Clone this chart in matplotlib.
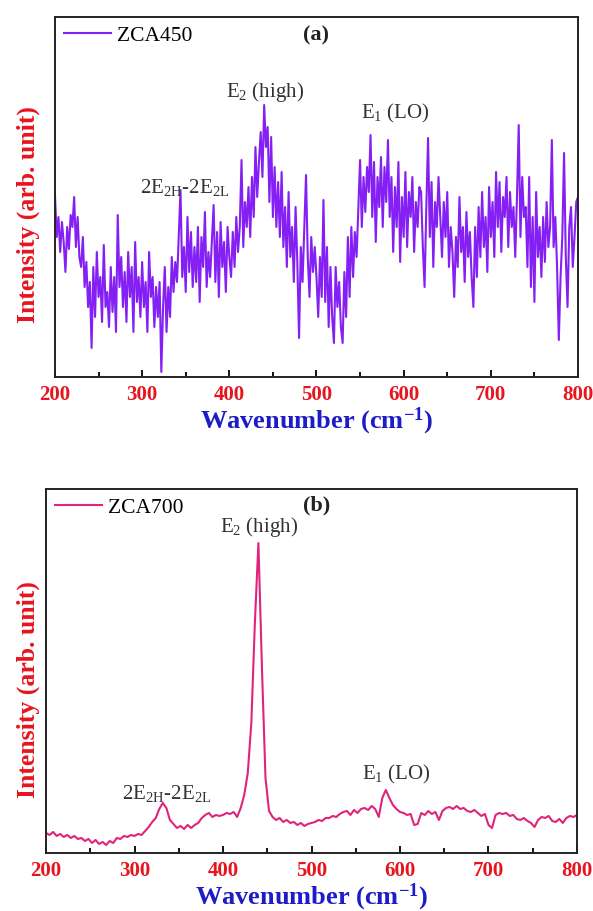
import numpy as np
import matplotlib
matplotlib.use('Agg')
import matplotlib.pyplot as plt
from matplotlib.ticker import MultipleLocator, NullLocator

plt.rcParams['font.family'] = 'Liberation Serif'
plt.rcParams['mathtext.fontset'] = 'custom'
plt.rcParams['mathtext.rm'] = 'Liberation Serif'
plt.rcParams['mathtext.it'] = 'Liberation Serif:italic'
plt.rcParams['mathtext.bf'] = 'Liberation Serif:bold'

# ZCA450 Raman spectrum, 2 cm-1 steps (arb. units)
wn_a = np.arange(200, 801, 2)
int_a = [182, 140, 160, 125, 155, 135, 105, 150, 128, 162,
         150, 180, 130, 160, 120, 110, 140, 90, 115, 70,
         95, 29, 110, 60, 125, 80, 100, 55, 132, 70,
         85, 50, 110, 65, 100, 45, 162, 90, 120, 70,
         105, 55, 125, 80, 110, 45, 135, 75, 100, 60,
         115, 70, 95, 45, 125, 80, 100, 50, 90, 60,
         95, 5, 70, 110, 45, 90, 60, 120, 85, 115,
         95, 140, 187, 100, 130, 85, 160, 105, 145, 90,
         130, 95, 150, 75, 140, 110, 165, 90, 125, 100,
         135, 172, 95, 145, 80, 155, 110, 135, 85, 150,
         120, 100, 145, 110, 160, 125, 150, 217, 130, 175,
         150, 190, 140, 200, 160, 230, 180, 215, 245, 200,
         272, 230, 250, 175, 240, 160, 210, 150, 195, 140,
         205, 130, 170, 110, 185, 120, 150, 95, 170, 115,
         39, 130, 95, 150, 202, 120, 80, 140, 105, 130,
         100, 60, 120, 80, 177, 75, 130, 50, 110, 60,
         34, 110, 70, 95, 50, 34, 105, 60, 140, 80,
         150, 100, 145, 120, 170, 217, 150, 200, 165, 210,
         185, 242, 160, 215, 135, 200, 170, 220, 150, 210,
         175, 237, 160, 200, 125, 190, 150, 215, 115, 180,
         140, 205, 130, 185, 160, 200, 125, 175, 150, 190,
         185, 130, 90, 170, 239, 140, 195, 110, 175, 150,
         200, 160, 120, 175, 140, 185, 110, 150, 125, 80,
         140, 110, 180, 125, 150, 95, 165, 120, 145, 100,
         70, 150, 100, 170, 120, 185, 130, 160, 105, 190,
         140, 175, 120, 205, 150, 195, 125, 180, 160, 200,
         130, 185, 150, 170, 120, 180, 252, 140, 200, 160,
         170, 110, 200, 90, 160, 75, 185, 120, 150, 100,
         160, 115, 175, 130, 150, 237, 130, 160, 110, 37,
         100, 140, 224, 120, 70, 150, 170, 110, 140, 175,
         180]

# ZCA700 Raman spectrum, 4 cm-1 steps (arb. units)
wn_b = np.arange(200, 801, 4)
int_b = [20, 18, 21, 17, 19, 16, 18, 15, 17, 14,
         15, 12, 14, 10, 13, 9, 11, 8, 12, 10,
         15, 14, 17, 16, 18, 17, 19, 18, 22, 26,
         31, 35, 44, 50, 45, 33, 29, 25, 27, 24,
         28, 25, 28, 30, 35, 38, 40, 36, 38, 37,
         38, 40, 39, 41, 36, 45, 58, 80, 130, 230,
         310, 185, 75, 42, 36, 33, 35, 31, 33, 30,
         31, 28, 30, 27, 29, 30, 31, 33, 32, 35,
         35, 37, 36, 39, 41, 42, 38, 43, 40, 44,
         45, 43, 47, 44, 36, 55, 63, 55, 48, 44,
         41, 40, 38, 39, 28, 29, 40, 38, 42, 39,
         41, 33, 42, 45, 46, 44, 47, 44, 45, 42,
         41, 43, 40, 37, 39, 28, 25, 38, 40, 39,
         40, 37, 38, 34, 33, 35, 32, 30, 26, 33,
         36, 35, 37, 32, 31, 34, 30, 35, 37, 36,
         38]

fig = plt.figure(figsize=(5.93, 9.11), dpi=100)
ax1 = fig.add_axes([0.0927, 0.5862, 0.882, 0.3951])
ax2 = fig.add_axes([0.0776, 0.0637, 0.8954, 0.3995])


def style(ax, ymax, ylab_x):
    ax.set_xlim(200, 800)
    ax.set_ylim(0, ymax)
    ax.xaxis.set_major_locator(MultipleLocator(100))
    ax.xaxis.set_minor_locator(MultipleLocator(50))
    ax.yaxis.set_major_locator(NullLocator())
    ax.tick_params(axis='x', which='major', direction='in', length=5, width=1.3,
                   labelsize=15, labelcolor='#e8141e', pad=6)
    ax.tick_params(axis='x', which='minor', direction='in', length=3.5, width=1.3)
    for lab in ax.get_xticklabels():
        lab.set_fontweight('bold')
    for sp in ax.spines.values():
        sp.set_linewidth(1.4)
        sp.set_color('#222222')
    ax.set_xlabel('Wavenumber (cm$^{\\mathbf{-1}}$)', fontsize=19, fontweight='bold',
                  color='#1c1cc8', labelpad=0)
    ax.set_ylabel('Intensity (arb. unit)', fontsize=18.5, fontweight='bold',
                  color='#e8141e')
    ax.yaxis.set_label_coords(ylab_x, 0.45)


ax1.plot(wn_a, int_a, color='#8420f4', lw=1.5, label='ZCA450')
style(ax1, 360, -0.029)
ax1.text(441, 285, 'E$_2$ (high)', ha='center', va='center', fontsize=15, color='#333333')
ax1.text(349, 190, '2E$_{\\mathrm{2H}}$-2E$_{\\mathrm{2L}}$', ha='center', va='center',
         fontsize=15, color='#333333')
ax1.text(590, 264, 'E$_1$ (LO)', ha='center', va='center', fontsize=15, color='#333333')
ax1.text(500, 342, '(a)', ha='center', va='center', fontsize=16, fontweight='bold', color='#222222')
ax1.legend(loc='upper left', frameon=False, fontsize=15.5, handlelength=2.2,
           borderaxespad=0.0, handletextpad=0.3)

ax2.plot(wn_b, int_b, color='#e0237c', lw=1.5, label='ZCA700')
style(ax2, 364, -0.012)
ax2.text(441, 326, 'E$_2$ (high)', ha='center', va='center', fontsize=15, color='#333333')
ax2.text(336, 59, '2E$_{\\mathrm{2H}}$-2E$_{\\mathrm{2L}}$', ha='center', va='center',
         fontsize=15, color='#333333')
ax2.text(596, 78, 'E$_1$ (LO)', ha='center', va='center', fontsize=15, color='#333333')
ax2.text(506, 348, '(b)', ha='center', va='center', fontsize=16, fontweight='bold', color='#222222')
ax2.legend(loc='upper left', frameon=False, fontsize=15.5, handlelength=2.2,
           borderaxespad=0.0, handletextpad=0.3)

fig.savefig('out.png', dpi=100)
